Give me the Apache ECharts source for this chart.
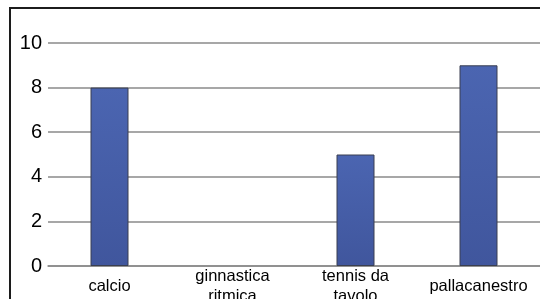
<!DOCTYPE html>
<html>
<head>
<meta charset="utf-8">
<script src="https://cdn.jsdelivr.net/npm/echarts@6/dist/echarts.min.js"></script>
<style>
  html, body { margin: 0; padding: 0; background: #fff; }
  #chart { width: 540px; height: 299px; }
</style>
</head>
<body>
<div id="chart"></div>
<script>
// sport -> numero di ragazzi
const categories = ['calcio', 'ginnastica\nritmica', 'tennis da\ntavolo', 'pallacanestro']
const values = [8, 0, 5, 9]
const yTicks = [0, 2, 4, 6, 8, 10]

const chart = echarts.init(document.getElementById('chart'))

// zero bars get no border, like the original
const barData = values.map(v => v === 0 ? { value: v, itemStyle: { borderWidth: 0 } } : v)

const option = {
    animation: false,
    grid: {
        left: 48,
        right: 0,
        top: 43,
        bottom: 33,
        containLabel: false,
        outerBoundsMode: 'none'
    },
    graphic: [{
        type: 'rect',
        shape: { x: 10, y: 8, width: 700, height: 500 },
        style: { fill: 'none', stroke: '#1c1c1c', lineWidth: 2 },
        silent: true
    }],
    xAxis: {
        type: 'category',
        data: categories,
        axisLine: { show: true, lineStyle: { color: '#8a8a8a', width: 1.5 } },
        axisTick: { show: false },
        axisLabel: {
            interval: 0,
            color: '#000',
            fontFamily: 'Liberation Sans, Arial, sans-serif',
            fontSize: 16.5,
            lineHeight: 20,
            verticalAlign: 'middle',
            margin: 20
        }
    },
    yAxis: {
        type: 'value',
        min: yTicks[0],
        max: yTicks[yTicks.length - 1],
        interval: 2,
        axisLine: { show: false },
        axisTick: { show: false },
        axisLabel: {
            color: '#000',
            fontFamily: 'Liberation Sans, Arial, sans-serif',
            fontSize: 20,
            margin: 6
        },
        splitLine: {
            lineStyle: { color: '#8a8a8a', width: 1.5 }
        }
    },
    series: [{
        type: 'bar',
        data: barData,
        barWidth: 38,
        itemStyle: {
            color: new echarts.graphic.LinearGradient(0, 0, 0, 1, [
                { offset: 0, color: '#4b65b1' },
                { offset: 1, color: '#40569d' }
            ]),
            borderColor: '#3a3f50',
            borderWidth: 1
        }
    }]
}

chart.setOption(option)
</script>
</body>
</html>
